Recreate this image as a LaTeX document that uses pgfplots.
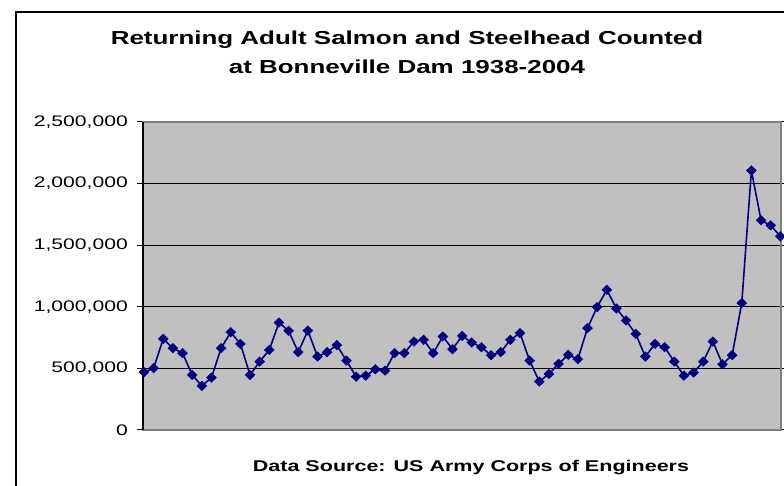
\documentclass[border=0pt]{standalone}
\usepackage{fontspec}
\setmainfont{Liberation Sans}[FakeStretch=1.38]
\usepackage{pgfplots}
\pgfplotsset{compat=1.18}
\definecolor{plotgray}{HTML}{C0C0C0}
\definecolor{bordergray}{HTML}{808080}
\definecolor{navyline}{HTML}{000080}
\pgfplotstableread{
year value
1938 469000
1939 502000
1940 740000
1941 664000
1942 624000
1943 447000
1944 358000
1945 425000
1946 664000
1947 794000
1948 699000
1949 447000
1950 555000
1951 650000
1952 872000
1953 805000
1954 632000
1955 807000
1956 596000
1957 632000
1958 689000
1959 563000
1960 433000
1961 441000
1962 493000
1963 482000
1964 624000
1965 624000
1966 718000
1967 732000
1968 624000
1969 759000
1970 656000
1971 764000
1972 710000
1973 672000
1974 607000
1975 632000
1976 732000
1977 786000
1978 563000
1979 393000
1980 455000
1981 537000
1982 610000
1983 575000
1984 827000
1985 998000
1986 1138000
1987 986000
1988 889000
1989 780000
1990 596000
1991 699000
1992 672000
1993 555000
1994 441000
1995 466000
1996 555000
1997 718000
1998 534000
1999 607000
2000 1030000
2001 2106000
2002 1702000
2003 1661000
2004 1572000
}\datatable
\begin{document}
\begin{tikzpicture}
\useasboundingbox (0,0) rectangle (784pt,486pt);
\fill[white] (0,0) rectangle (784pt,486pt);
\draw[black, line width=1.3pt] (16pt,0pt) -- (16pt,474pt) -- (784pt,474pt);
\node[anchor=base, font=\bfseries\fontsize{18.8}{22}\selectfont, inner sep=0pt] at (407pt,441pt) {Returning Adult Salmon and Steelhead Counted};
\node[anchor=base, font=\bfseries\fontsize{18.8}{22}\selectfont, inner sep=0pt] at (407pt,412.7pt) {at Bonneville Dam 1938-2004};
\node[anchor=base, font=\bfseries\fontsize{15.6}{18}\selectfont, inner sep=0pt] at (471pt,14.3pt) {Data Source: US Army Corps of Engineers};
\begin{axis}[
  at={(143pt,56pt)}, anchor=south west,
  scale only axis, width=638pt, height=308pt,
  xmin=1937.9, xmax=2004.07,
  ymin=0, ymax=2500000,
  xtick=\empty,
  ytick={0,500000,1000000,1500000,2000000,2500000},
  scaled y ticks=false,
  /pgf/number format/fixed,
  /pgf/number format/1000 sep={,},
  /pgf/number format/assume math mode=true,
  yticklabel style={font=\fontsize{15.3}{18}\selectfont, anchor=east, inner sep=0pt, xshift=-9pt},
  tick align=outside, major tick length=6pt,
  tick style={black, line width=1pt},
  ymajorgrids, grid style={black, line width=0.9pt},
  axis background/.style={fill=plotgray},
  axis line style={bordergray, line width=1.5pt},
  clip=false,
]
\addplot[navyline, line width=1.6pt, mark=diamond*, mark size=4.8pt, mark options={xscale=1.38, fill=navyline, draw=navyline, line width=0.4pt}] table[x=year, y=value] {\datatable};
\draw[black, line width=1.5pt] (rel axis cs:0,0) -- (rel axis cs:0,1);
\end{axis}
\end{tikzpicture}
\end{document}
